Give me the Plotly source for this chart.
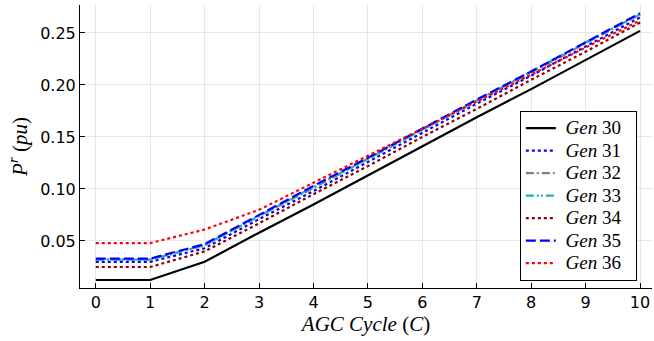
import plotly.graph_objects as go

cycles = [0, 1, 2, 3, 4, 5, 6, 7, 8, 9, 10]
gen30 = [0.0125, 0.0125, 0.030, 0.058, 0.085, 0.113, 0.141, 0.169, 0.196, 0.224, 0.252]
gen31 = [0.030, 0.030, 0.043, 0.071, 0.098, 0.126, 0.154, 0.182, 0.209, 0.237, 0.265]
gen32 = [0.032, 0.032, 0.046, 0.074, 0.101, 0.129, 0.157, 0.185, 0.212, 0.240, 0.268]
gen33 = [0.032, 0.032, 0.046, 0.074, 0.102, 0.129, 0.157, 0.185, 0.213, 0.241, 0.268]
gen34 = [0.025, 0.025, 0.040, 0.067, 0.095, 0.122, 0.150, 0.177, 0.205, 0.232, 0.260]
gen35 = [0.033, 0.033, 0.047, 0.075, 0.103, 0.130, 0.158, 0.186, 0.213, 0.241, 0.269]
gen36 = [0.048, 0.048, 0.061, 0.080, 0.106, 0.132, 0.158, 0.184, 0.210, 0.236, 0.262]
names = ["30", "31", "32", "33", "34", "35", "36"]
series = [gen30, gen31, gen32, gen33, gen34, gen35, gen36]
colors = ["#000000", "#0000FF", "#808080", "#20B2AA", "#8B0000", "#0000FF", "#FF0000"]
dashes = ["solid", "dot", "8px,3px,2px,3px", "8px,3px,2px,2px,2px,3px", "dot", "10px,4px", "dot"]

fig = go.Figure()
for n, s, c, d in zip(names, series, colors, dashes):
    fig.add_trace(go.Scatter(
        x=cycles, y=s, mode="lines",
        name="<span style='font-size:19px'> <i>Gen</i> " + n + "  </span>",
        line=dict(color=c, dash=d, width=2.2),
    ))

fig.update_layout(
    width=654, height=341,
    margin=dict(l=80, r=2, t=5, b=53),
    plot_bgcolor="white", paper_bgcolor="white",
    font=dict(family="DejaVu Sans", size=16, color="black"),
    showlegend=True,
    legend=dict(
        x=0.9735, xanchor="right", y=0.025, yanchor="bottom",
        bordercolor="black", borderwidth=1, bgcolor="white",
        font=dict(family="Liberation Serif", size=15),
        tracegroupgap=0, itemwidth=30,
    ),
)
fig.update_xaxes(
    range=[-0.29, 10.22], tickmode="array", tickvals=cycles,
    ticktext=[str(v) for v in cycles],
    showgrid=True, gridcolor="#e6e6e6", gridwidth=1,
    showline=True, linecolor="black", linewidth=1,
    ticks="inside", ticklen=5, tickcolor="black", zeroline=False,
    title=dict(text="<i>AGC Cycle</i> (<i>C</i>)",
               font=dict(family="Liberation Serif", size=21), standoff=2),
)
fig.update_yaxes(
    range=[0.0048, 0.2769], tickmode="array",
    tickvals=[0.05, 0.10, 0.15, 0.20, 0.25],
    ticktext=["0.05", "0.10", "0.15", "0.20", "0.25"],
    showgrid=True, gridcolor="#e6e6e6", gridwidth=1,
    showline=True, linecolor="black", linewidth=1,
    ticks="inside", ticklen=5, tickcolor="black", zeroline=False,
    title=dict(text="<i>P</i><sup><i>r</i></sup> (<i>pu</i>)",
               font=dict(family="Liberation Serif", size=21), standoff=6),
)
fig.write_html("out.html")
